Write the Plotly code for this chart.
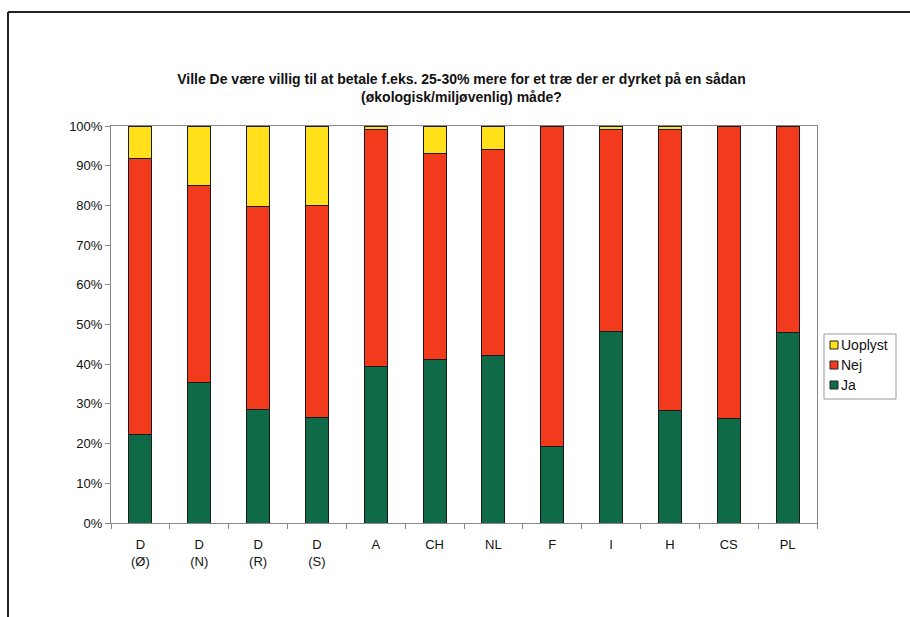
import plotly.graph_objects as go

categories = ["D<br>(Ø)", "D<br>(N)", "D<br>(R)", "D<br>(S)", "A", "CH", "NL", "F", "I", "H", "CS", "PL"]
ja = [22.4, 35.3, 28.5, 26.6, 39.3, 41.2, 42.3, 19.2, 48.2, 28.3, 26.2, 48.1]
nej = [69.5, 49.7, 51.3, 53.4, 59.7, 51.9, 51.8, 80.8, 50.8, 70.7, 73.8, 51.9]
uoplyst = [8.1, 15.0, 20.2, 20.0, 1.0, 6.9, 5.9, 0.0, 1.0, 1.0, 0.0, 0.0]
series_names = ["Ja", "Nej", "Uoplyst"]
series_colors = ["#0f6a48", "#f23a1c", "#ffe01a"]
y_ticks = [0, 10, 20, 30, 40, 50, 60, 70, 80, 90, 100]
y_labels = [f"{v}%" for v in y_ticks]

W, H = 910, 617
L, R, T, B = 111, 93, 126, 94
pw, ph = W - L - R, H - T - B


def px(x):
    return (x - L) / pw


def py(y):
    return (H - B - y) / ph


fig = go.Figure()
line = dict(color="#1a1a1a", width=1)
for name, vals, col in zip(series_names, [ja, nej, uoplyst], series_colors):
    fig.add_trace(go.Bar(name=name, x=categories, y=vals, showlegend=False,
                         marker=dict(color=col, line=line)))

# manual legend (Excel-style small swatches), top to bottom: Uoplyst, Nej, Ja
shapes = [
    dict(type="line", xref="paper", yref="paper", x0=px(8), x1=px(915), y0=py(12), y1=py(12),
         line=dict(color="#222", width=2)),
    dict(type="line", xref="paper", yref="paper", x0=px(8), x1=px(8), y0=py(12), y1=py(625),
         line=dict(color="#222", width=2)),
    dict(type="rect", xref="paper", yref="paper", x0=px(824), x1=px(896), y0=py(334), y1=py(399),
         line=dict(color="#999", width=1), fillcolor="white"),
]
annotations = []
legend_y = [385, 365, 345]
for name, col, yc in zip(series_names, series_colors, legend_y):
    shapes.append(dict(type="rect", xref="paper", yref="paper",
                       x0=px(830), x1=px(838), y0=py(yc + 4), y1=py(yc - 4),
                       line=dict(color="#222", width=1), fillcolor=col))
    annotations.append(dict(text=name, xref="paper", yref="paper", x=px(839), y=py(yc),
                            xanchor="left", yanchor="middle", showarrow=False,
                            font=dict(size=14, color="#111")))

fig.update_layout(
    width=W, height=H,
    margin=dict(l=L, r=R, t=T, b=B, autoexpand=False),
    barmode="stack",
    bargap=0.61,
    paper_bgcolor="white",
    plot_bgcolor="white",
    font=dict(family="Liberation Sans, Arial, sans-serif", size=12, color="#111"),
    title=dict(
        text="<b>Ville De være villig til at betale f.eks. 25-30% mere for et træ der er dyrket på en sådan<br>(økologisk/miljøvenlig) måde?</b>",
        x=px(469), xanchor="center", y=1 - 83.5 / H, yanchor="middle",
        font=dict(size=14, color="#111"),
    ),
    showlegend=False,
    xaxis=dict(
        showline=True, linecolor="#888", linewidth=1, mirror=True,
        ticks="outside", tickson="boundaries", ticklen=5, tickcolor="#888",
        showgrid=False, tickfont=dict(size=13), ticklabelstandoff=9,
    ),
    yaxis=dict(
        range=[0, 100], tickvals=y_ticks, ticktext=y_labels,
        showline=True, linecolor="#888", linewidth=1, mirror=True,
        ticks="outside", ticklen=5, tickcolor="#888",
        showgrid=False, zeroline=False, tickfont=dict(size=13),
    ),
    shapes=shapes,
    annotations=annotations,
)

fig.write_html("out.html")
